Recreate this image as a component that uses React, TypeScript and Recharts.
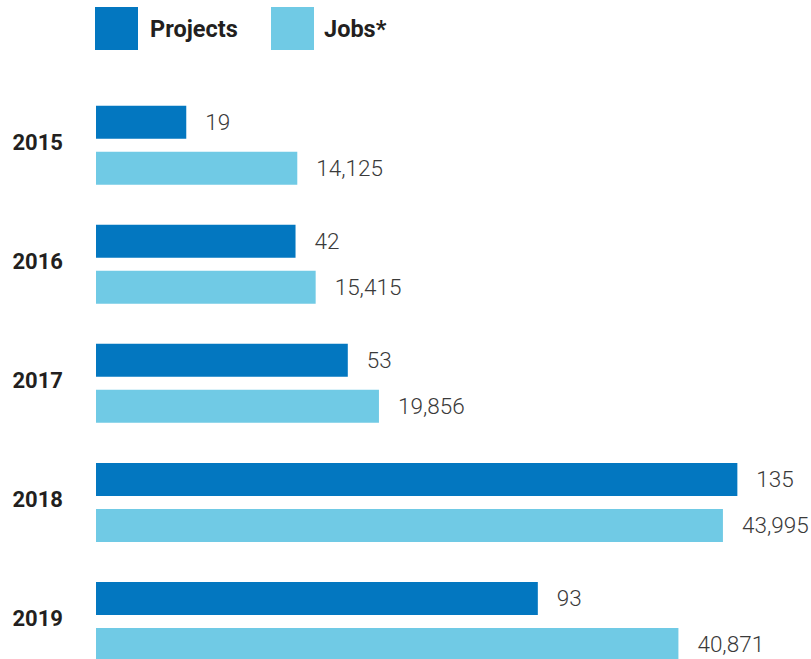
import React from 'react'
import { BarChart, Bar, XAxis, YAxis, Legend, LabelList } from 'recharts'

const YEARS = ['2015', '2016', '2017', '2018', '2019']
const PROJECTS = [19, 42, 53, 135, 93]
const JOBS = [14125, 15415, 19856, 43995, 40871]

const PROJECT_COLOR = '#0377C0'
const JOBS_COLOR = '#70CAE5'
const FONT = 'Roboto, "Open Sans", sans-serif'

const data = YEARS.map((year, i) => ({ year, projects: PROJECTS[i], jobs: JOBS[i] }))

const fmt = (v: unknown) => Number(v).toLocaleString('en-US')

function YearTick({ x, y, payload }: any) {
  return (
    <text x={x} y={y} dy={-3} textAnchor="end" dominantBaseline="central"
      fontFamily={FONT} fontWeight={700} fontSize={22} fill="#231F20">
      {payload.value}
    </text>
  )
}

function LegendBox() {
  const item = (color: string, label: string, gap: number, textW: number) => (
    <div style={{ display: 'flex', alignItems: 'center' }}>
      <div style={{ width: 43, height: 43, background: color }} />
      <span style={{ marginLeft: gap, width: textW, fontFamily: FONT, fontWeight: 700, fontSize: 23.5, color: '#231F20' }}>
        {label}
      </span>
    </div>
  )
  return (
    <div style={{ display: 'flex', height: 43 }}>
      {item(PROJECT_COLOR, 'Projects', 12, 121)}
      {item(JOBS_COLOR, 'Jobs*', 10, 80)}
    </div>
  )
}

export default function App() {
  return (
    <div style={{ position: 'absolute', left: 0, top: 0, width: 811, height: 659, overflow: 'hidden', background: '#fff' }}>
      <BarChart
        width={811}
        height={681}
        data={data}
        layout="vertical"
        barSize={33}
        barGap={13}
        margin={{ top: 42.7, right: 0, bottom: 0, left: 0 }}
      >
        <Legend verticalAlign="top" align="left" content={() => <LegendBox />}
          wrapperStyle={{ top: 7, left: 95, width: 400, height: 43 }} />
        <XAxis xAxisId="p" type="number" domain={[0, 150.5]} hide />
        <XAxis xAxisId="j" type="number" domain={[0, 50175]} hide />
        <YAxis type="category" dataKey="year" width={96} axisLine={false} tickLine={false}
          tickSize={0} tickMargin={33} tick={<YearTick />} />
        <Bar xAxisId="p" dataKey="projects" fill={PROJECT_COLOR} isAnimationActive={false}>
          <LabelList dataKey="projects" position="right" offset={19} formatter={fmt}
            style={{ fontFamily: FONT, fontWeight: 300, fontSize: 22.5, fill: '#3A3A3A' }} />
        </Bar>
        <Bar xAxisId="j" dataKey="jobs" fill={JOBS_COLOR} isAnimationActive={false}>
          <LabelList dataKey="jobs" position="right" offset={19} formatter={fmt}
            style={{ fontFamily: FONT, fontWeight: 300, fontSize: 22.5, fill: '#3A3A3A' }} />
        </Bar>
      </BarChart>
    </div>
  )
}
